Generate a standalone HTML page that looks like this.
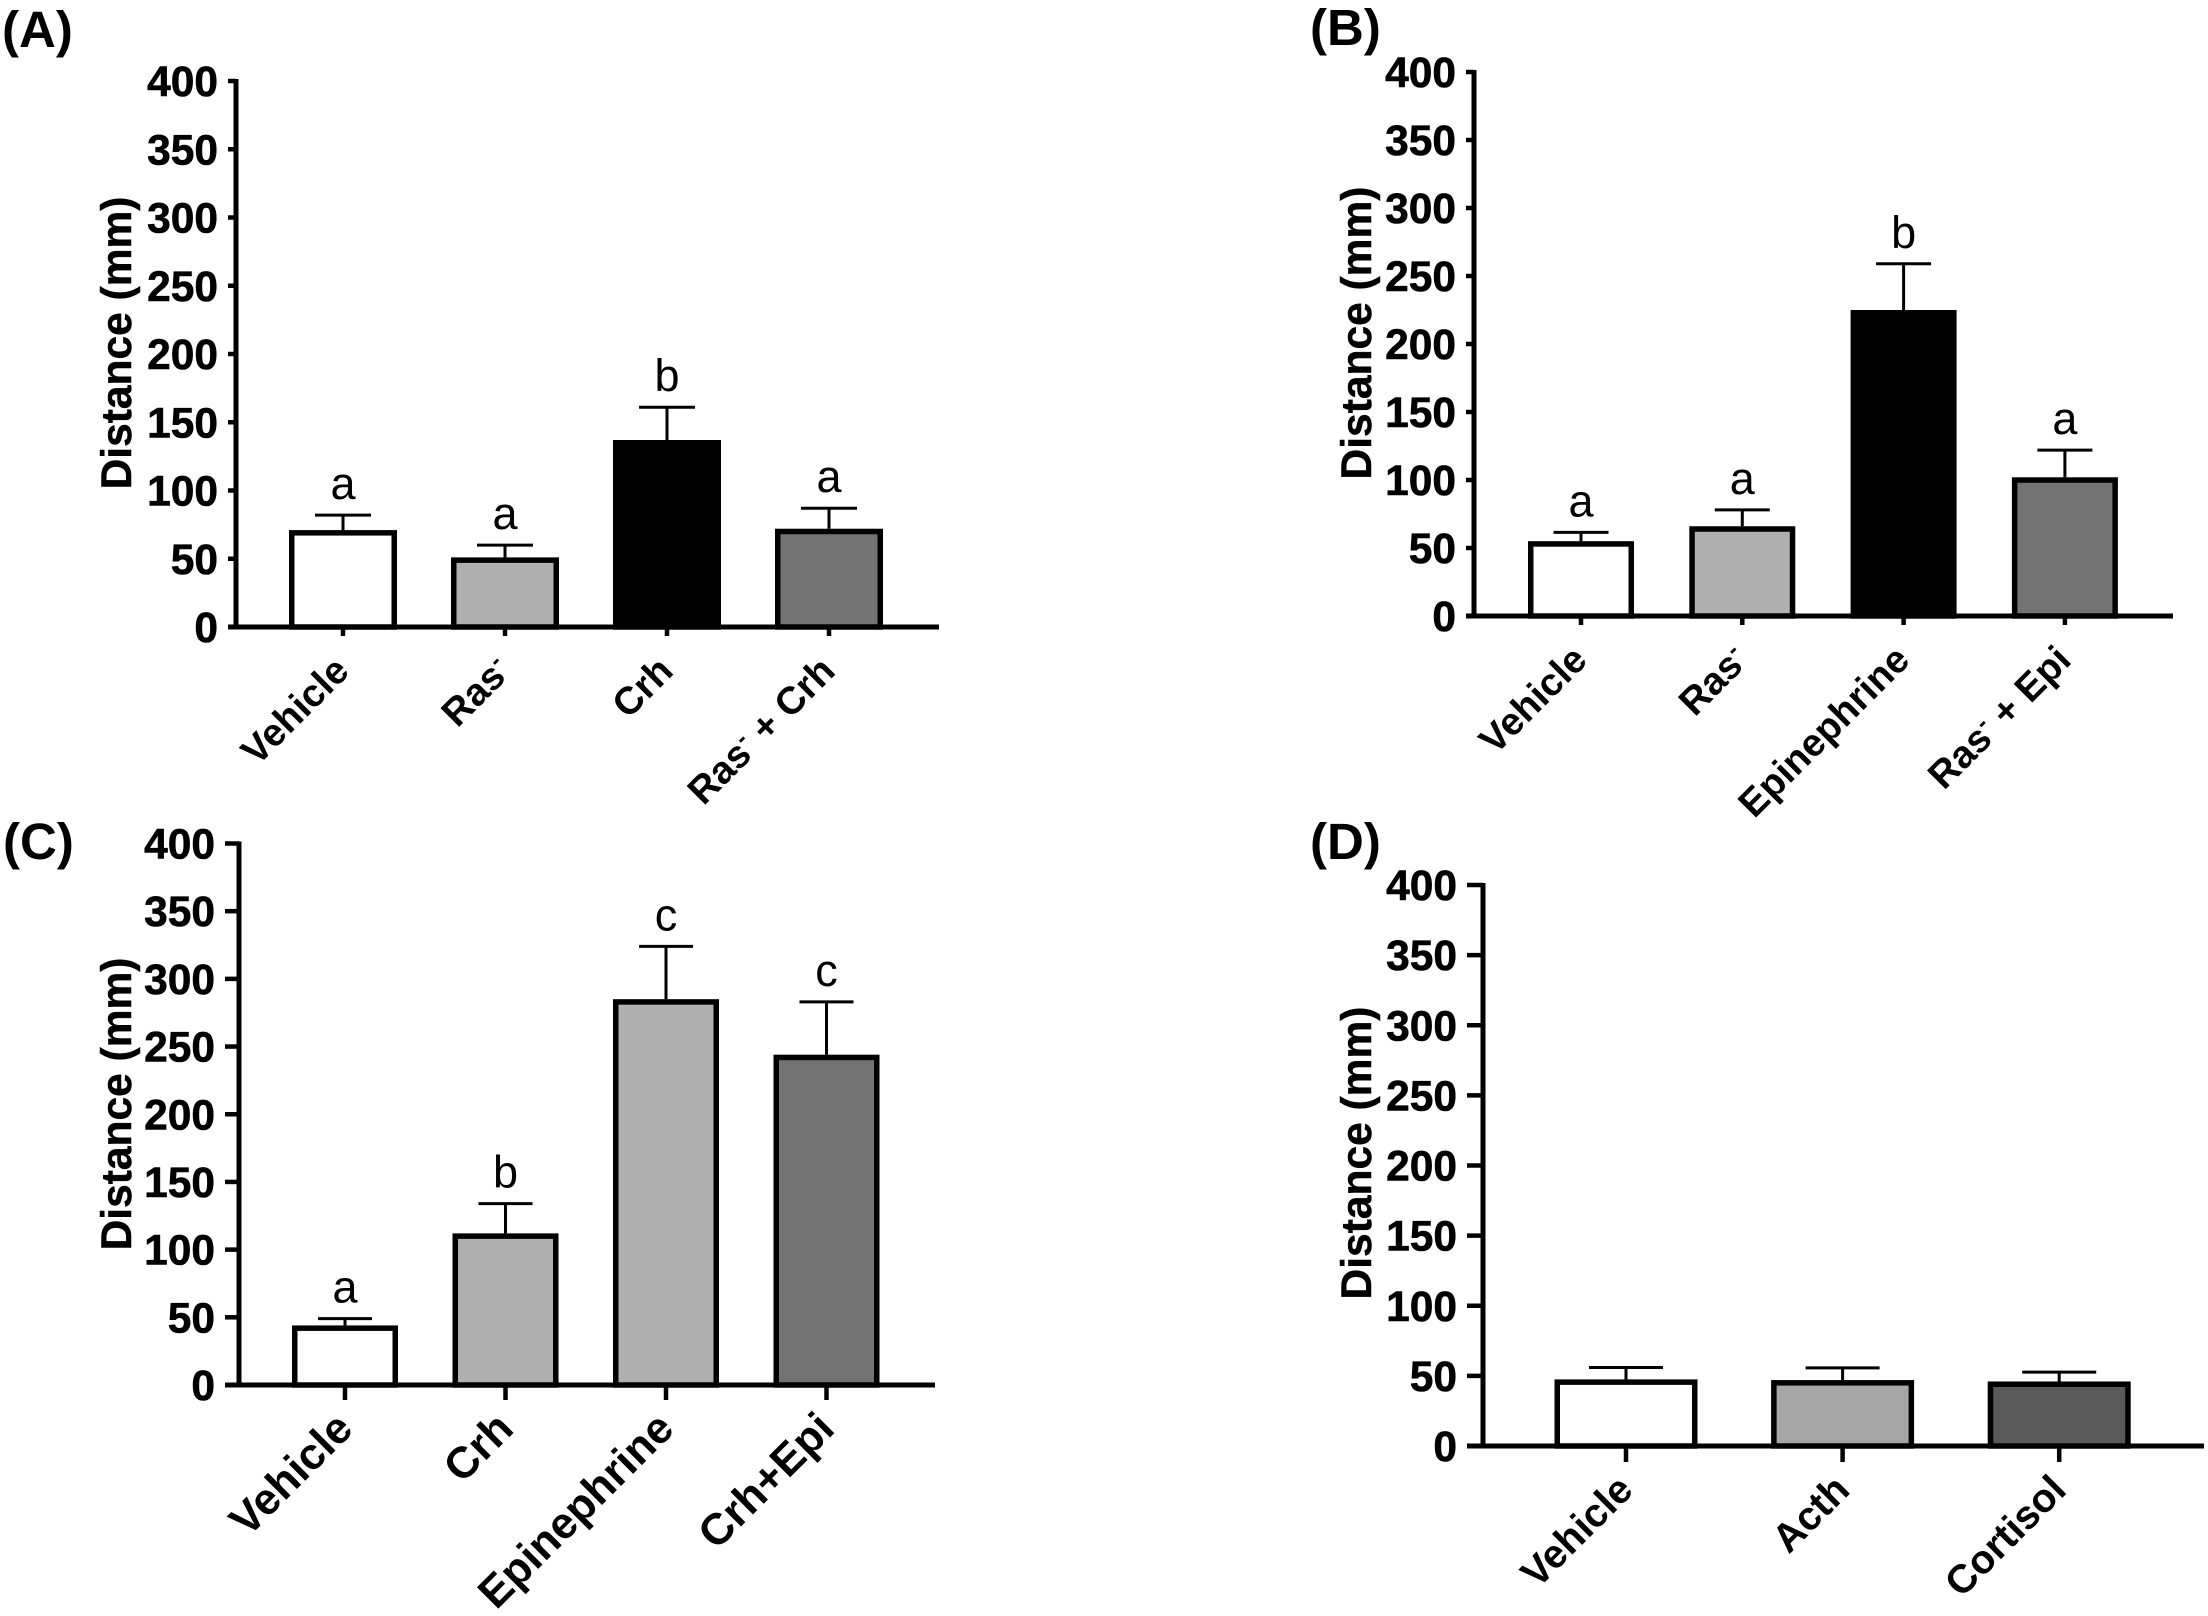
<!DOCTYPE html>
<html lang="en">
<head>
<meta charset="utf-8">
<title>Distance by treatment, panels A to D</title>
<style>
html,body{margin:0;padding:0;background:#fff;width:2208px;height:1616px;overflow:hidden}
svg{display:block}
text{font-family:"Liberation Sans",Arial,sans-serif;fill:#000}
</style>
</head>
<body>
<svg id="figure" xmlns="http://www.w3.org/2000/svg" width="2208" height="1616" viewBox="0 0 2208 1616"></svg>
<script>
const yTickValues = [0, 50, 100, 150, 200, 250, 300, 350, 400];
const yTitle = "Distance (mm)";

const categoriesA = ["Vehicle", "Ras-", "Crh", "Ras- + Crh"];
const valuesA = [71, 51, 137, 72];
const errorsA = [82, 60, 161, 87];
const lettersA = ["a", "a", "b", "a"];
const fillsA = ["#ffffff", "#b0b0b0", "#000000", "#737373"];

const categoriesB = ["Vehicle", "Ras-", "Epinephrine", "Ras- + Epi"];
const valuesB = [55, 66, 225, 102];
const errorsB = [61.5, 78, 259, 122];
const lettersB = ["a", "a", "b", "a"];
const fillsB = ["#ffffff", "#b0b0b0", "#000000", "#737373"];

const categoriesC = ["Vehicle", "Crh", "Epinephrine", "Crh+Epi"];
const valuesC = [44, 112, 285, 244];
const errorsC = [49, 134, 324, 283];
const lettersC = ["a", "b", "c", "c"];
const fillsC = ["#ffffff", "#b0b0b0", "#b0b0b0", "#737373"];

const categoriesD = ["Vehicle", "Acth", "Cortisol"];
const valuesD = [47.5, 47, 46];
const errorsD = [56, 55.7, 52.7];
const lettersD = ["", "", ""];
const fillsD = ["#ffffff", "#a6a6a6", "#595959"];

const NS = "http://www.w3.org/2000/svg";
const root = document.getElementById("figure");

function mk(parent, tag, attrs, text) {
  const el = document.createElementNS(NS, tag);
  for (const k in attrs) el.setAttribute(k, attrs[k]);
  if (text !== undefined) el.textContent = text;
  parent.appendChild(el);
  return el;
}

function drawCategoryLabel(parent, label, x, y, size) {
  const t = mk(parent, "text", {
    x: x, y: y, "text-anchor": "end", "font-size": size, "font-weight": "bold",
    transform: "rotate(-45 " + x + " " + y + ")"
  });
  
  
  const parts = label.split("-");
  t.appendChild(document.createTextNode(parts[0]));
  if (parts.length > 1) {
    mk(t, "tspan", { "font-size": size * 0.62, dy: -size * 0.36 }, "-");
    const rest = mk(t, "tspan", { dy: size * 0.36 }, parts[1] || "\u200b");
    
    
  }
}

function drawPanel(p) {
  const g = mk(root, "g", {});
  
  

  const yScale = v => p.y0 - (v / 400) * (p.y0 - p.y400);
  const xScale = i => p.firstTick + i * p.step;
  const sw = 5.5;

  const tag = mk(g, "text", { x: p.tagX, y: p.tagY, "font-size": 51, "font-weight": "bold" }, "(" + p.id + ")");
  
  

  const title = mk(g, "text", {
    x: p.titleX, y: p.titleY, "text-anchor": "middle", "font-size": 42.5, "font-weight": "bold",
    stroke: "#000", "stroke-width": 0.5,
    transform: "rotate(-90 " + p.titleX + " " + p.titleY + ")"
  }, yTitle);
  
  

  p.categories.forEach((c, i) => {
    const cx = xScale(i);
    const top = yScale(p.values[i]);
    const errTop = yScale(p.errors[i]);

    const whisker = mk(g, "line", { x1: cx, x2: cx, y1: top, y2: errTop, stroke: "#000", "stroke-width": 3 });
    
    

    const cap = mk(g, "line", { x1: cx - p.capW / 2, x2: cx + p.capW / 2, y1: errTop, y2: errTop, stroke: "#000", "stroke-width": 3 });
    
    

    const bar = mk(g, "rect", {
      x: cx - p.barW / 2 + sw / 2, y: top + sw / 2, width: p.barW - sw, height: p.y0 - top - sw / 2,
      fill: p.fills[i], stroke: "#000", "stroke-width": sw
    });
    
    

    if (p.letters[i]) {
      const letter = mk(g, "text", { x: cx, y: errTop - 16, "text-anchor": "middle", "font-size": 45 }, p.letters[i]);
      
      
    }

    const xt = mk(g, "line", { x1: cx, x2: cx, y1: p.y0, y2: p.y0 + p.xTickLen, stroke: "#000", "stroke-width": 4.5 });
    
    

    drawCategoryLabel(g, c, cx + p.labelDx, p.y0 + p.labelDy, p.labelSize);
  });

  yTickValues.forEach(v => {
    const y = yScale(v);
    const tick = mk(g, "line", { x1: p.axisX - p.yTickLen, x2: p.axisX, y1: y, y2: y, stroke: "#000", "stroke-width": 4.5 });
    
    

    const lab = mk(g, "text", {
      x: p.axisX - p.yTickLen - 10, y: y + 15, "text-anchor": "end", "font-size": 42.5, "font-weight": "bold",
      stroke: "#000", "stroke-width": 0.6
    }, String(v));
    
    
  });

  const yAxis = mk(g, "line", { x1: p.axisX, x2: p.axisX, y1: p.y400 - 2, y2: p.y0 + 2, stroke: "#000", "stroke-width": 5 });
  
  

  const xAxis = mk(g, "line", { x1: p.axisX - p.yTickLen, x2: p.axisRight, y1: p.y0, y2: p.y0, stroke: "#000", "stroke-width": 5 });
  
  
}

drawPanel({
  id: "A", tagX: 2, tagY: 47, titleX: 131, titleY: 343,
  axisX: 236, axisRight: 939, y0: 627, y400: 81, firstTick: 343, step: 162,
  barW: 108, capW: 56, yTickLen: 8, xTickLen: 9, labelDx: 8, labelDy: 46, labelSize: 38.5,
  categories: categoriesA, values: valuesA, errors: errorsA, letters: lettersA, fills: fillsA
});
drawPanel({
  id: "B", tagX: 1310, tagY: 45, titleX: 1371, titleY: 333,
  axisX: 1474, axisRight: 2173, y0: 616, y400: 72, firstTick: 1581, step: 161.3,
  barW: 106, capW: 55, yTickLen: 8, xTickLen: 9, labelDx: 8, labelDy: 46, labelSize: 38.5,
  categories: categoriesB, values: valuesB, errors: errorsB, letters: lettersB, fills: fillsB
});
drawPanel({
  id: "C", tagX: 3, tagY: 859, titleX: 131, titleY: 1104,
  axisX: 239, axisRight: 935, y0: 1385, y400: 843.5, firstTick: 345, step: 160.5,
  barW: 106, capW: 54, yTickLen: 14, xTickLen: 15, labelDx: 10, labelDy: 46, labelSize: 44,
  categories: categoriesC, values: valuesC, errors: errorsC, letters: lettersC, fills: fillsC
});
drawPanel({
  id: "D", tagX: 1310, tagY: 859, titleX: 1371, titleY: 1153,
  axisX: 1483, axisRight: 2204, y0: 1446, y400: 885, firstTick: 1626, step: 216.6,
  barW: 143, capW: 74, yTickLen: 16, xTickLen: 16, labelDx: 9, labelDy: 46, labelSize: 40,
  categories: categoriesD, values: valuesD, errors: errorsD, letters: lettersD, fills: fillsD
});
</script>
</body>
</html>
